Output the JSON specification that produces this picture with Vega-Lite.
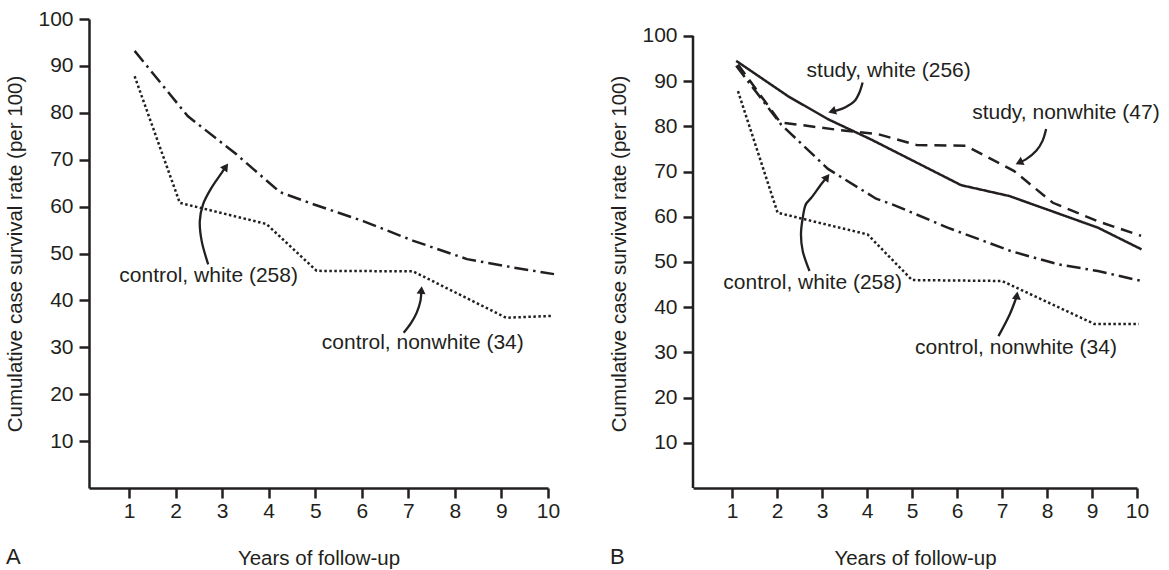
{
  "$schema": "https://vega.github.io/schema/vega-lite/v6.json",
  "background": "white",
  "padding": {"left": 5, "top": 8, "right": 5, "bottom": 0},
  "spacing": 49,
  "config": {
    "view": {"stroke": null},
    "font": "Liberation Sans",
    "axis": {
      "grid": false,
      "domainColor": "#231f20",
      "domainWidth": 2.5,
      "tickColor": "#231f20",
      "tickWidth": 2.5,
      "tickSize": 10,
      "labelFlush": false,
      "labelFont": "Liberation Sans",
      "labelFontSize": 21,
      "labelColor": "#231f20",
      "titleFont": "Liberation Sans",
      "titleFontSize": 20.5,
      "titleFontWeight": "normal",
      "titleColor": "#231f20"
    },
    "axisX": {"labelPadding": 2, "titlePadding": 27, "labelAngle": 0},
    "axisY": {"labelPadding": 6, "titlePadding": 12},
    "title": {"font": "Liberation Sans", "fontSize": 22, "fontWeight": "normal", "color": "#231f20"}
  },
  "datasets": {
    "lines": [
      {"panel": "A", "series": "control, white", "year": 1.12, "rate": 93.2},
      {"panel": "A", "series": "control, white", "year": 2.26, "rate": 79.3},
      {"panel": "A", "series": "control, white", "year": 3.3, "rate": 71.2},
      {"panel": "A", "series": "control, white", "year": 4.24, "rate": 63.1},
      {"panel": "A", "series": "control, white", "year": 4.96, "rate": 60.5},
      {"panel": "A", "series": "control, white", "year": 6.03, "rate": 56.9},
      {"panel": "A", "series": "control, white", "year": 7.11, "rate": 52.7},
      {"panel": "A", "series": "control, white", "year": 8.26, "rate": 48.8},
      {"panel": "A", "series": "control, white", "year": 9.26, "rate": 47.0},
      {"panel": "A", "series": "control, white", "year": 10.13, "rate": 45.6},
      {"panel": "A", "series": "control, nonwhite", "year": 1.12, "rate": 87.8},
      {"panel": "A", "series": "control, nonwhite", "year": 2.09, "rate": 60.8},
      {"panel": "A", "series": "control, nonwhite", "year": 3.95, "rate": 56.3},
      {"panel": "A", "series": "control, nonwhite", "year": 5.03, "rate": 46.3},
      {"panel": "A", "series": "control, nonwhite", "year": 7.1, "rate": 46.2},
      {"panel": "A", "series": "control, nonwhite", "year": 9.1, "rate": 36.3},
      {"panel": "A", "series": "control, nonwhite", "year": 10.1, "rate": 36.7},
      {"panel": "B", "series": "study, white", "year": 1.09, "rate": 94.5},
      {"panel": "B", "series": "study, white", "year": 2.24, "rate": 86.7},
      {"panel": "B", "series": "study, white", "year": 3.13, "rate": 81.6},
      {"panel": "B", "series": "study, white", "year": 4.09, "rate": 77.1},
      {"panel": "B", "series": "study, white", "year": 6.09, "rate": 67.0},
      {"panel": "B", "series": "study, white", "year": 7.16, "rate": 64.6},
      {"panel": "B", "series": "study, white", "year": 8.09, "rate": 61.3},
      {"panel": "B", "series": "study, white", "year": 9.13, "rate": 57.6},
      {"panel": "B", "series": "study, white", "year": 10.1, "rate": 52.8},
      {"panel": "B", "series": "study, nonwhite", "year": 1.13, "rate": 93.7},
      {"panel": "B", "series": "study, nonwhite", "year": 2.07, "rate": 80.9},
      {"panel": "B", "series": "study, nonwhite", "year": 3.3, "rate": 79.3},
      {"panel": "B", "series": "study, nonwhite", "year": 4.24, "rate": 78.3},
      {"panel": "B", "series": "study, nonwhite", "year": 5.1, "rate": 75.9},
      {"panel": "B", "series": "study, nonwhite", "year": 6.2, "rate": 75.7},
      {"panel": "B", "series": "study, nonwhite", "year": 7.27, "rate": 70.1},
      {"panel": "B", "series": "study, nonwhite", "year": 8.13, "rate": 63.1},
      {"panel": "B", "series": "study, nonwhite", "year": 9.13, "rate": 59.0},
      {"panel": "B", "series": "study, nonwhite", "year": 10.09, "rate": 55.8},
      {"panel": "B", "series": "control, white", "year": 1.09, "rate": 93.4},
      {"panel": "B", "series": "control, white", "year": 2.09, "rate": 80.4},
      {"panel": "B", "series": "control, white", "year": 3.13, "rate": 70.6},
      {"panel": "B", "series": "control, white", "year": 4.2, "rate": 64.0},
      {"panel": "B", "series": "control, white", "year": 4.6, "rate": 62.6},
      {"panel": "B", "series": "control, white", "year": 5.79, "rate": 57.6},
      {"panel": "B", "series": "control, white", "year": 7.2, "rate": 52.4},
      {"panel": "B", "series": "control, white", "year": 8.24, "rate": 49.5},
      {"panel": "B", "series": "control, white", "year": 9.13, "rate": 48.0},
      {"panel": "B", "series": "control, white", "year": 10.1, "rate": 45.8},
      {"panel": "B", "series": "control, nonwhite", "year": 1.13, "rate": 87.8},
      {"panel": "B", "series": "control, nonwhite", "year": 2.01, "rate": 60.9},
      {"panel": "B", "series": "control, nonwhite", "year": 4.01, "rate": 56.1},
      {"panel": "B", "series": "control, nonwhite", "year": 5.0, "rate": 46.0},
      {"panel": "B", "series": "control, nonwhite", "year": 7.0, "rate": 45.8},
      {"panel": "B", "series": "control, nonwhite", "year": 9.05, "rate": 36.3},
      {"panel": "B", "series": "control, nonwhite", "year": 10.04, "rate": 36.3}
    ],
    "labels": [
      {"panel": "A", "label": "control, white (258)", "year": 2.71, "rate": 45.2},
      {"panel": "A", "label": "control, nonwhite (34)", "year": 7.31, "rate": 31.0},
      {"panel": "B", "label": "study, white (256)", "year": 4.48, "rate": 92.3},
      {"panel": "B", "label": "study, nonwhite (47)", "year": 8.42, "rate": 83.0},
      {"panel": "B", "label": "control, white (258)", "year": 2.79, "rate": 45.4},
      {"panel": "B", "label": "control, nonwhite (34)", "year": 7.31, "rate": 31.0}
    ],
    "arrows": [
      {"panel": "A", "arrow": "A1", "step": 1, "year": 2.70, "rate": 47.7},
      {"panel": "A", "arrow": "A1", "step": 2, "year": 2.56, "rate": 52.7},
      {"panel": "A", "arrow": "A1", "step": 3, "year": 2.52, "rate": 56.9},
      {"panel": "A", "arrow": "A1", "step": 4, "year": 2.59, "rate": 60.5},
      {"panel": "A", "arrow": "A1", "step": 5, "year": 2.77, "rate": 64.0},
      {"panel": "A", "arrow": "A1", "step": 6, "year": 2.99, "rate": 67.2},
      {"panel": "A", "arrow": "A1", "step": 7, "year": 3.08, "rate": 68.5},
      {"panel": "A", "arrow": "A2", "step": 1, "year": 6.90, "rate": 33.1},
      {"panel": "A", "arrow": "A2", "step": 2, "year": 7.06, "rate": 35.2},
      {"panel": "A", "arrow": "A2", "step": 3, "year": 7.18, "rate": 37.4},
      {"panel": "A", "arrow": "A2", "step": 4, "year": 7.26, "rate": 39.9},
      {"panel": "A", "arrow": "A2", "step": 5, "year": 7.28, "rate": 42.2},
      {"panel": "B", "arrow": "B1", "step": 1, "year": 3.90, "rate": 89.7},
      {"panel": "B", "arrow": "B1", "step": 2, "year": 3.83, "rate": 87.5},
      {"panel": "B", "arrow": "B1", "step": 3, "year": 3.72, "rate": 85.6},
      {"panel": "B", "arrow": "B1", "step": 4, "year": 3.53, "rate": 84.3},
      {"panel": "B", "arrow": "B1", "step": 5, "year": 3.35, "rate": 83.6},
      {"panel": "B", "arrow": "B1", "step": 6, "year": 3.22, "rate": 83.3},
      {"panel": "B", "arrow": "B2", "step": 1, "year": 7.98, "rate": 79.4},
      {"panel": "B", "arrow": "B2", "step": 2, "year": 7.90, "rate": 76.8},
      {"panel": "B", "arrow": "B2", "step": 3, "year": 7.76, "rate": 74.6},
      {"panel": "B", "arrow": "B2", "step": 4, "year": 7.53, "rate": 72.7},
      {"panel": "B", "arrow": "B2", "step": 5, "year": 7.38, "rate": 72.0},
      {"panel": "B", "arrow": "B3", "step": 1, "year": 2.72, "rate": 48.0},
      {"panel": "B", "arrow": "B3", "step": 2, "year": 2.57, "rate": 52.4},
      {"panel": "B", "arrow": "B3", "step": 3, "year": 2.53, "rate": 56.1},
      {"panel": "B", "arrow": "B3", "step": 4, "year": 2.57, "rate": 59.8},
      {"panel": "B", "arrow": "B3", "step": 5, "year": 2.64, "rate": 62.8},
      {"panel": "B", "arrow": "B3", "step": 6, "year": 2.76, "rate": 64.2},
      {"panel": "B", "arrow": "B3", "step": 7, "year": 2.98, "rate": 67.2},
      {"panel": "B", "arrow": "B3", "step": 8, "year": 3.11, "rate": 68.8},
      {"panel": "B", "arrow": "B4", "step": 1, "year": 6.92, "rate": 33.6},
      {"panel": "B", "arrow": "B4", "step": 2, "year": 7.17, "rate": 38.4},
      {"panel": "B", "arrow": "B4", "step": 3, "year": 7.29, "rate": 41.4},
      {"panel": "B", "arrow": "B4", "step": 4, "year": 7.33, "rate": 42.6}
    ],
    "heads": [
      {"arrow": "A1", "year": 3.08, "rate": 68.5},
      {"arrow": "A2", "year": 7.28, "rate": 42.2},
      {"arrow": "B1", "year": 3.22, "rate": 83.3},
      {"arrow": "B2", "year": 7.38, "rate": 72.0},
      {"arrow": "B3", "year": 3.11, "rate": 68.8},
      {"arrow": "B4", "year": 7.33, "rate": 42.6}
    ]
  },
  "hconcat": [
    {
      "width": 459,
      "height": 469,
      "title": {"text": "A", "orient": "bottom", "anchor": "start", "frame": "bounds", "offset": -22},
      "encoding": {
        "x": {"field": "year", "type": "quantitative", "scale": {"domain": [0.14, 10], "nice": false, "zero": false}, "axis": {"values": [1, 2, 3, 4, 5, 6, 7, 8, 9, 10], "title": "Years of follow-up"}},
        "y": {"field": "rate", "type": "quantitative", "scale": {"domain": [0, 100], "nice": false}, "axis": {"values": [10, 20, 30, 40, 50, 60, 70, 80, 90, 100], "title": "Cumulative case survival rate (per 100)"}}
      },
      "layer": [
        {
          "data": {"name": "lines"},
          "transform": [{"filter": "datum.panel == 'A'"}],
          "mark": {"type": "line", "color": "#231f20", "strokeWidth": 2.5},
          "encoding": {
            "strokeDash": {"field": "series", "type": "nominal", "scale": {"domain": ["study, white", "study, nonwhite", "control, white", "control, nonwhite"], "range": [[1, 0], [12, 7], [14, 5, 2.5, 5], [2.5, 2.5]]}, "legend": null}
          }
        },
        {
          "data": {"name": "arrows"},
          "transform": [{"filter": "datum.panel == 'A'"}],
          "mark": {"type": "line", "color": "#231f20", "strokeWidth": 2.3, "interpolate": "catmull-rom"},
          "encoding": {
            "detail": {"field": "arrow", "type": "nominal"},
            "order": {"field": "step", "type": "quantitative"}
          }
        },
        {
          "data": {"name": "heads"},
          "transform": [{"filter": "datum.arrow == 'A1'"}],
          "mark": {"type": "point", "shape": "triangle-up", "filled": true, "size": 80, "angle": 35, "color": "#231f20", "opacity": 1}
        },
        {
          "data": {"name": "heads"},
          "transform": [{"filter": "datum.arrow == 'A2'"}],
          "mark": {"type": "point", "shape": "triangle-up", "filled": true, "size": 80, "angle": 5, "color": "#231f20", "opacity": 1}
        },
        {
          "data": {"name": "labels"},
          "transform": [{"filter": "datum.panel == 'A'"}],
          "mark": {"type": "text", "font": "Liberation Sans", "fontSize": 21, "color": "#231f20", "align": "center", "baseline": "middle"},
          "encoding": {"text": {"field": "label", "type": "nominal"}}
        }
      ]
    },
    {
      "width": 444,
      "height": 469,
      "title": {"text": "B", "orient": "bottom", "anchor": "start", "frame": "bounds", "offset": -22},
      "encoding": {
        "x": {"field": "year", "type": "quantitative", "scale": {"domain": [0.13, 10], "nice": false, "zero": false}, "axis": {"values": [1, 2, 3, 4, 5, 6, 7, 8, 9, 10], "title": "Years of follow-up"}},
        "y": {"field": "rate", "type": "quantitative", "scale": {"domain": [0, 103.76], "nice": false}, "axis": {"values": [10, 20, 30, 40, 50, 60, 70, 80, 90, 100], "domain": false, "title": "Cumulative case survival rate (per 100)"}}
      },
      "layer": [
        {
          "data": {"values": [{"year": 0.13, "rate": 0, "top": 100}]},
          "mark": {"type": "rule", "color": "#231f20", "strokeWidth": 2.5},
          "encoding": {"y2": {"field": "top"}}
        },
        {
          "data": {"name": "lines"},
          "transform": [{"filter": "datum.panel == 'B'"}],
          "mark": {"type": "line", "color": "#231f20", "strokeWidth": 2.5},
          "encoding": {
            "strokeDash": {"field": "series", "type": "nominal", "scale": {"domain": ["study, white", "study, nonwhite", "control, white", "control, nonwhite"], "range": [[1, 0], [12, 7], [14, 5, 2.5, 5], [2.5, 2.5]]}, "legend": null}
          }
        },
        {
          "data": {"name": "arrows"},
          "transform": [{"filter": "datum.panel == 'B'"}],
          "mark": {"type": "line", "color": "#231f20", "strokeWidth": 2.3, "interpolate": "catmull-rom"},
          "encoding": {
            "detail": {"field": "arrow", "type": "nominal"},
            "order": {"field": "step", "type": "quantitative"}
          }
        },
        {
          "data": {"name": "heads"},
          "transform": [{"filter": "datum.arrow == 'B1'"}],
          "mark": {"type": "point", "shape": "triangle-up", "filled": true, "size": 80, "angle": 253, "color": "#231f20", "opacity": 1}
        },
        {
          "data": {"name": "heads"},
          "transform": [{"filter": "datum.arrow == 'B2'"}],
          "mark": {"type": "point", "shape": "triangle-up", "filled": true, "size": 80, "angle": 245, "color": "#231f20", "opacity": 1}
        },
        {
          "data": {"name": "heads"},
          "transform": [{"filter": "datum.arrow == 'B3'"}],
          "mark": {"type": "point", "shape": "triangle-up", "filled": true, "size": 80, "angle": 37, "color": "#231f20", "opacity": 1}
        },
        {
          "data": {"name": "heads"},
          "transform": [{"filter": "datum.arrow == 'B4'"}],
          "mark": {"type": "point", "shape": "triangle-up", "filled": true, "size": 80, "angle": 8, "color": "#231f20", "opacity": 1}
        },
        {
          "data": {"name": "labels"},
          "transform": [{"filter": "datum.panel == 'B'"}],
          "mark": {"type": "text", "font": "Liberation Sans", "fontSize": 21, "color": "#231f20", "align": "center", "baseline": "middle"},
          "encoding": {"text": {"field": "label", "type": "nominal"}}
        }
      ]
    }
  ]
}
